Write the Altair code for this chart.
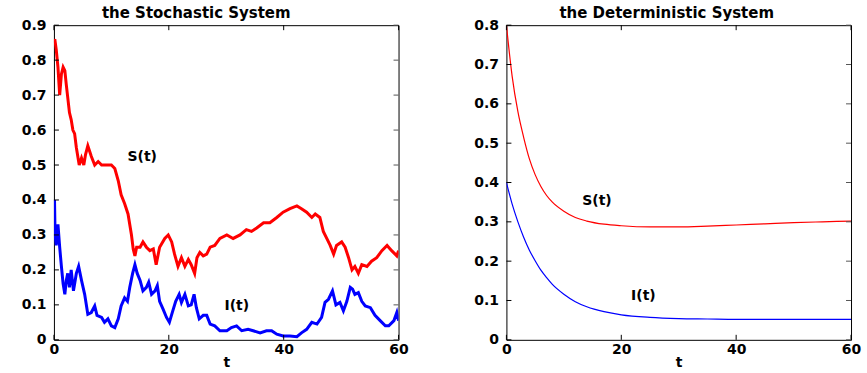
import altair as alt
import pandas as pd

# ---------------- data ----------------
t_S = [0, 0.15, 0.4, 0.7, 1.0, 1.3, 1.6, 1.9, 2.15, 2.7, 3.0, 3.3, 3.6, 3.9, 4.4, 4.8, 5.2, 5.5, 5.9,
       6.5, 7.1, 7.7, 8.3, 9.1, 10.0, 10.6, 11.2, 11.7, 12.3, 12.9, 13.5, 13.8, 14.1, 14.4, 15.0, 15.5,
       16.1, 16.7, 17.3, 17.8, 18.4, 19.3, 19.9, 20.5, 21.0, 21.6, 22.2, 22.8, 23.4, 23.9, 24.5, 24.9,
       25.4, 26.0, 26.6, 27.2, 28.0, 28.9, 30.1, 31.2, 32.4, 33.5, 34.4, 35.3, 36.5, 37.6, 38.8, 39.9,
       41.1, 42.3, 43.1, 44.0, 44.9, 45.5, 46.3, 46.9, 47.5, 48.1, 48.7, 49.2, 50.1, 50.7, 51.3, 51.9,
       52.4, 53.0, 53.6, 54.5, 55.3, 56.2, 57.1, 58.0, 58.8, 59.7, 60]
S_sto = [0.85, 0.86, 0.83, 0.78, 0.70, 0.76, 0.78, 0.77, 0.73, 0.65, 0.63, 0.60, 0.59, 0.55, 0.50, 0.52,
         0.50, 0.53, 0.555, 0.525, 0.50, 0.51, 0.50, 0.50, 0.50, 0.49, 0.455, 0.415, 0.39, 0.36, 0.30,
         0.26, 0.24, 0.265, 0.265, 0.28, 0.265, 0.255, 0.26, 0.215, 0.265, 0.29, 0.30, 0.28, 0.245, 0.21,
         0.235, 0.21, 0.23, 0.215, 0.19, 0.235, 0.25, 0.24, 0.245, 0.265, 0.27, 0.29, 0.30, 0.29, 0.30,
         0.315, 0.31, 0.32, 0.335, 0.335, 0.35, 0.365, 0.375, 0.383, 0.375, 0.365, 0.35, 0.36, 0.35, 0.31,
         0.29, 0.27, 0.245, 0.27, 0.28, 0.265, 0.235, 0.20, 0.21, 0.19, 0.215, 0.21, 0.225, 0.235, 0.255,
         0.27, 0.255, 0.24, 0.255]

t_I = [0, 0.1, 0.2, 0.4, 0.7, 1.0, 1.3, 1.6, 1.9, 2.15, 2.4, 2.7, 3.0, 3.4, 3.9, 4.3, 4.8, 5.35, 5.9,
       6.5, 7.1, 7.5, 8.3, 8.8, 9.4, 10.0, 10.6, 11.2, 11.7, 12.3, 12.8, 13.2, 13.7, 14.1, 14.5, 15.0,
       15.5, 16.1, 16.5, 17.0, 17.6, 18.0, 18.4, 19.0, 19.6, 20.1, 20.6, 21.2, 21.8, 22.2, 22.8, 23.4,
       23.9, 24.4, 24.8, 25.3, 26.0, 26.6, 27.2, 28.0, 28.9, 30.1, 30.9, 31.8, 32.7, 33.8, 34.7, 35.9,
       37.0, 37.9, 38.8, 39.9, 41.1, 42.3, 43.1, 44.0, 44.9, 45.8, 46.6, 47.2, 47.8, 48.5, 49.1, 49.8,
       50.4, 51.0, 51.6, 52.0, 52.4, 53.0, 53.6, 54.2, 55.1, 55.9, 56.8, 57.7, 58.3, 59.2, 59.7, 60]
I_sto = [0.38, 0.40, 0.30, 0.27, 0.33, 0.265, 0.21, 0.16, 0.13, 0.17, 0.19, 0.15, 0.20, 0.14, 0.19,
         0.21, 0.17, 0.13, 0.073, 0.078, 0.097, 0.07, 0.064, 0.05, 0.06, 0.04, 0.035, 0.06, 0.097, 0.12,
         0.11, 0.15, 0.19, 0.215, 0.19, 0.17, 0.14, 0.15, 0.165, 0.13, 0.14, 0.155, 0.11, 0.088, 0.064,
         0.05, 0.078, 0.11, 0.13, 0.107, 0.13, 0.097, 0.10, 0.13, 0.092, 0.06, 0.07, 0.07, 0.045, 0.04,
         0.026, 0.026, 0.035, 0.04, 0.026, 0.03, 0.026, 0.02, 0.026, 0.026, 0.016, 0.011, 0.011, 0.009,
         0.02, 0.03, 0.05, 0.045, 0.064, 0.107, 0.116, 0.14, 0.10, 0.107, 0.083, 0.11, 0.15, 0.145, 0.13,
         0.135, 0.11, 0.097, 0.092, 0.07, 0.055, 0.04, 0.04, 0.055, 0.078, 0.055]

t_det = [0, 1, 2, 3, 4, 5, 6, 7, 8, 10, 12, 14, 17, 20, 25, 30, 35, 40, 45, 50, 55, 60]
S_det = [0.80, 0.67, 0.58, 0.515, 0.46, 0.42, 0.39, 0.367, 0.35, 0.327, 0.311, 0.302, 0.294, 0.290,
         0.287, 0.287, 0.289, 0.292, 0.295, 0.298, 0.300, 0.302]
I_det = [0.40, 0.345, 0.300, 0.261, 0.228, 0.201, 0.177, 0.158, 0.141, 0.116, 0.097, 0.084, 0.0715,
         0.0635, 0.057, 0.054, 0.053, 0.052, 0.052, 0.052, 0.052, 0.052]

x_ticks = [0, 20, 40, 60]
y_ticks_sto = [0, 0.1, 0.2, 0.3, 0.4, 0.5, 0.6, 0.7, 0.8, 0.9]
y_ticks_det = [0, 0.1, 0.2, 0.3, 0.4, 0.5, 0.6, 0.7, 0.8]
titles = ["the Stochastic System", "the Deterministic System"]
x_title = "t"
curve_labels = ["S(t)", "I(t)"]
label_t_sto = [12.8, 29.7]
label_v_sto = [0.523, 0.097]
label_t_det = [13.2, 21.7]
label_v_det = [0.353, 0.112]

# ---------------- styling ----------------
W, H = 345, 315
FONT = "DejaVu Sans"
TICK = 5
Y_LABEL_EXPR = "datum.value == 0 ? '0' : format(datum.value, '.1f')"


def long_df(t1, v1, t2, v2):
    a = pd.DataFrame({"t": t1, "v": v1, "series": "S"})
    b = pd.DataFrame({"t": t2, "v": v2, "series": "I"})
    return pd.concat([a, b], ignore_index=True)


def panel(df, ymax, yticks, lab_t, lab_v, title, stroke_w, interp, title_dx):
    xs = alt.Scale(domain=[0, 60], nice=False, zero=False)
    ys = alt.Scale(domain=[0, ymax], nice=False)
    cs = alt.Scale(domain=["S", "I"], range=["#ff0000", "#0000ff"])
    xax = alt.Axis(values=x_ticks, title=x_title, labelFlush=False, labelOverlap=False, format="d",
                   grid=False, ticks=False, domain=False, labelPadding=3, titlePadding=-1)
    yax = alt.Axis(values=yticks, title=None, labelExpr=Y_LABEL_EXPR, labelOverlap=False,
                   labelFlush=False, grid=False, ticks=False, domain=False, labelPadding=8)
    X = alt.X("t:Q", scale=xs, axis=xax)
    Y = alt.Y("v:Q", scale=ys, axis=yax)

    lines = alt.Chart(df).mark_line(strokeWidth=stroke_w, interpolate=interp, clip=True).encode(
        x=X, y=Y,
        color=alt.Color("series:N", scale=cs, legend=None),
        order=alt.Order("t:Q"),
    )

    xt = pd.DataFrame({"t": x_ticks})
    yt = pd.DataFrame({"v": yticks})
    rx_b = alt.Chart(xt).mark_rule(color="black").encode(
        x=X, y=alt.value(H), y2=alt.value(H - TICK))
    rx_t = alt.Chart(xt).mark_rule(color="black").encode(
        x=X, y=alt.value(0), y2=alt.value(TICK))
    ry_l = alt.Chart(yt).mark_rule(color="black").encode(
        y=Y, x=alt.value(0), x2=alt.value(TICK))
    ry_r = alt.Chart(yt).mark_rule(color="#555555").encode(
        y=Y, x=alt.value(W), x2=alt.value(W - TICK))

    ldf = pd.DataFrame({"t": lab_t, "v": lab_v, "label": curve_labels})
    texts = alt.Chart(ldf).mark_text(align="left", baseline="middle", font=FONT, fontSize=14,
                                     fontWeight="bold", color="black").encode(
        x=X, y=Y, text="label:N",
    )

    return alt.layer(lines, rx_b, rx_t, ry_l, ry_r, texts).properties(
        width=W, height=H,
        title=alt.TitleParams(title, font=FONT, fontSize=15, fontWeight="bold", color="black",
                              offset=-3, dx=title_dx, anchor="middle"),
    )


left = panel(long_df(t_S, S_sto, t_I, I_sto), 0.9, y_ticks_sto, label_t_sto, label_v_sto,
             titles[0], 3, "linear", -30)
right = panel(long_df(t_det, S_det, t_det, I_det), 0.8, y_ticks_det, label_t_det, label_v_det,
              titles[1], 1.2, "monotone", -12)

chart = alt.hconcat(left, right, spacing=108, bounds="flush").properties(
    padding={"left": 20, "top": 5, "right": 5, "bottom": 0}
).configure_view(
    stroke="black", strokeWidth=1
).configure_axis(
    labelFont=FONT, labelFontSize=14, labelFontWeight="bold", labelColor="black",
    titleFont=FONT, titleFontSize=14, titleFontWeight="bold", titleColor="black",
)

chart.save("out.html", embed_options={"renderer": "svg", "actions": False})
